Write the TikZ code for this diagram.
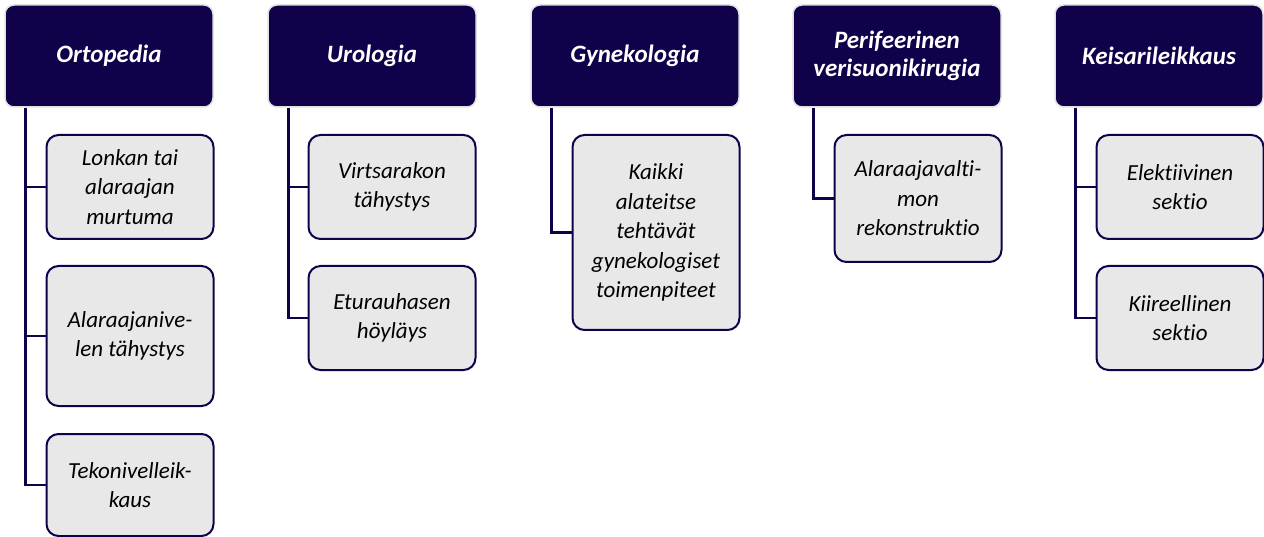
\documentclass[tikz,border=0pt]{standalone}
\usepackage{fontspec}
\setmainfont[RawFeature=-liga]{Carlito}
\usepackage{tikz}
\usetikzlibrary{positioning}
\definecolor{navy}{RGB}{17,0,74}
\definecolor{boxgrey}{RGB}{232,232,232}
\definecolor{rimgrey}{RGB}{225,225,225}

\begin{document}
\begin{tikzpicture}[x=1pt,y=1pt]
\tikzstyle{head}=[rectangle,rounded corners=9pt,fill=navy,draw=rimgrey,line width=1.5pt,
  minimum width=208pt,minimum height=102pt,text=white,align=center,
  font=\fontsize{25}{28}\selectfont\bfseries\itshape]
\tikzstyle{item}=[rectangle,rounded corners=12pt,fill=boxgrey,draw=navy,line width=2pt,
  minimum width=167pt,align=center,text=black,
  font=\fontsize{23}{29.5}\selectfont\itshape]
\tikzstyle{link}=[draw=navy,line width=2.5pt]
\useasboundingbox (0,0) rectangle (1264,-537);
% headers
\node[head] (orto) at (109,-56) {Ortopedia};
\node[head] (uro) at (372,-56) {Urologia};
\node[head] (gyn) at (635,-56) {Gynekologia};
\node[head] (peri) at (897,-56) {Perifeerinen\\verisuonikirugia};
\node[head] (keis) at (1159,-56) {Keisarileikkaus};
% items
\node[item,minimum height=104pt] (orto1) at (130,-187) {Lonkan tai\\alaraajan\\murtuma};
\node[item,minimum height=140pt] (orto2) at (130,-336) {Alaraajanive-\\len tähystys};
\node[item,minimum height=102pt] (orto3) at (130,-485) {Tekonivelleik-\\kaus};
\node[item,minimum height=104pt] (uro1) at (392,-187) {Virtsarakon\\tähystys};
\node[item,minimum height=104pt] (uro2) at (392,-318) {Eturauhasen\\höyläys};
\node[item,minimum height=195pt] (gyn1) at (656,-232.5) {Kaikki\\alateitse\\tehtävät\\gynekologiset\\toimenpiteet};
\node[item,minimum height=127pt] (peri1) at (918,-198.5) {Alaraajavalti-\\mon\\rekonstruktio};
\node[item,minimum height=104pt] (keis1) at (1180,-187) {Elektiivinen\\sektio};
\node[item,minimum height=104pt] (keis2) at (1180,-318) {Kiireellinen\\sektio};
% connectors
\foreach \h/\c in {orto/orto1,orto/orto2,orto/orto3,uro/uro1,uro/uro2,gyn/gyn1,peri/peri1,keis/keis1,keis/keis2}
  \draw[link] ([xshift=21pt]\h.south west) |- (\c.west);
\end{tikzpicture}
\end{document}
